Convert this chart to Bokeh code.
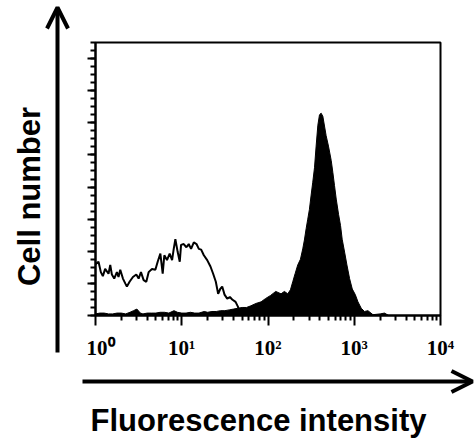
import numpy as np
from bokeh.plotting import figure
from bokeh.layouts import row, column
from bokeh.models import Range1d, FixedTicker, Arrow, OpenHead, Label
from bokeh.embed import file_html
from bokeh.resources import INLINE

# ---- data ----
# isotype control histogram (open line): log10 fluorescence, cell count
ctrl_log = [0.0, 0.035, 0.062, 0.085, 0.112, 0.151, 0.171, 0.19, 0.217, 0.248,
            0.267, 0.287, 0.318, 0.345, 0.364, 0.395, 0.434, 0.473, 0.5, 0.527,
            0.558, 0.589, 0.616, 0.655, 0.694, 0.721, 0.752, 0.779, 0.798, 0.829,
            0.86, 0.888, 0.907, 0.926, 0.953, 0.977, 0.992, 1.023, 1.054, 1.081,
            1.108, 1.14, 1.171, 1.198, 1.225, 1.256, 1.295, 1.333, 1.364, 1.395,
            1.422, 1.446, 1.469, 1.496, 1.527, 1.558, 1.585, 1.624, 1.651, 1.682,
            1.75, 1.85]
ctrl_count = [64, 67, 54, 49, 58, 52, 63, 51, 46, 54,
              48, 57, 46, 40, 36, 42, 48, 51, 46, 54,
              44, 42, 54, 58, 57, 67, 77, 52, 75, 69,
              77, 69, 83, 95, 79, 67, 88, 89, 85, 89,
              83, 91, 89, 83, 82, 75, 69, 61, 52, 42,
              27, 33, 36, 26, 21, 23, 20, 17, 11, 2,
              2, 1]

# stained sample histogram (filled)
samp_log = [0.0, 0.05, 0.1, 0.15, 0.2, 0.25, 0.3, 0.35, 0.4, 0.44, 0.48, 0.52,
            0.55, 0.6, 0.65, 0.7, 0.75, 0.8, 0.85, 0.91, 0.95, 1.0, 1.05,
            1.1, 1.15, 1.2, 1.26, 1.3, 1.35, 1.4, 1.45, 1.5, 1.55, 1.6, 1.65,
            1.7, 1.75, 1.8, 1.86, 1.92, 1.97, 2.03, 2.09, 2.151, 2.19, 2.229,
            2.26, 2.287, 2.314, 2.345, 2.376, 2.403, 2.422, 2.442, 2.461, 2.48,
            2.5, 2.519, 2.539, 2.558, 2.578, 2.597, 2.616, 2.636, 2.655, 2.674,
            2.701, 2.733, 2.752, 2.771, 2.791, 2.818, 2.841, 2.86, 2.888, 2.915,
            2.946, 2.977, 3.012, 3.043, 3.081, 3.119, 3.159, 3.217, 3.30, 3.35,
            3.40]
samp_count = [2, 3, 3, 2, 2, 3, 3, 2, 4, 6, 8, 3,
              2, 3, 3, 3, 4, 4, 3, 6, 4, 3, 3,
              4, 3, 3, 5, 4, 5, 5, 6, 6, 7, 8, 9,
              10, 10, 12, 15, 17, 21, 25, 30, 27, 30, 27,
              32, 42, 52, 63, 70, 83, 94, 108, 120, 132,
              150, 166, 184, 211, 237, 250, 252, 248, 236, 224,
              211, 193, 178, 162, 145, 126, 112, 95, 79, 63,
              46, 33, 26, 17, 9, 5, 6, 1, 2, 3,
              0]

x_major = [1, 10, 100, 1000, 10000]
x_labels = ["10\u2070", "10\u00b9", "10\u00b2", "10\u00b3", "10\u2074"]
x_minor = [m * d for d in [1, 10, 100, 1000] for m in range(2, 10)]
y_major = list(range(0, 341, 40))
y_minor = list(range(0, 341, 10))

x_title = "Fluorescence intensity"
y_title = "Cell number"

TOP_H = 362
LEFT_W = 86
TOTAL_W = 474
BOT_H = 80


def strip(width, height):
    f = figure(width=width, height=height, x_range=Range1d(0, width),
               y_range=Range1d(0, height), output_backend="svg",
               toolbar_location=None, min_border=0,
               x_axis_location=None, y_axis_location=None)
    f.grid.visible = False
    f.outline_line_color = None
    f.background_fill_color = "white"
    f.border_fill_color = "white"
    return f


# ---- main histogram ----
p = figure(width=TOTAL_W - LEFT_W, height=TOP_H, x_axis_type="log",
           x_range=Range1d(1, 10000), y_range=Range1d(0, 340),
           output_backend="svg", toolbar_location=None,
           min_border_left=9, min_border_right=34,
           min_border_top=42, min_border_bottom=45)
p.background_fill_color = "white"
p.border_fill_color = "white"
p.xgrid.visible = False
p.ygrid.visible = False
p.outline_line_color = "black"
p.outline_line_width = 2

sx = 10 ** np.array(samp_log)
cx = 10 ** np.array(ctrl_log)
p.varea(x=sx, y1=0, y2=samp_count, fill_color="black")
p.line(x=sx, y=samp_count, line_color="black", line_width=1)
p.line(x=cx, y=ctrl_count, line_color="black", line_width=2)

xa = p.xaxis[0]
xa.ticker = FixedTicker(ticks=x_major, minor_ticks=x_minor)
xa.major_label_overrides = {v: s for v, s in zip(x_major, x_labels)}
xa.axis_line_width = 2
xa.major_tick_line_width = 2
xa.minor_tick_line_width = 2
xa.major_tick_in = 0
xa.major_tick_out = 10
xa.minor_tick_in = 0
xa.minor_tick_out = 5
xa.major_label_standoff = 10
xa.major_label_text_font = "Liberation Serif"
xa.major_label_text_font_style = "bold"
xa.major_label_text_font_size = "21px"
xa.major_label_text_color = "black"

ya = p.yaxis[0]
ya.ticker = FixedTicker(ticks=y_major, minor_ticks=y_minor)
ya.major_label_overrides = {v: "" for v in y_major}
ya.major_label_standoff = 0
ya.axis_line_width = 2
ya.major_tick_line_width = 2
ya.minor_tick_line_width = 2
ya.major_tick_in = 0
ya.major_tick_out = 8
ya.minor_tick_in = 0
ya.minor_tick_out = 5

# ---- left strip: y arrow + title ----
lf = strip(LEFT_W, TOP_H)
lf.add_layout(Arrow(end=OpenHead(size=21, line_width=4, line_color="black"),
                    x_start=57, y_start=TOP_H - 352, x_end=57, y_end=TOP_H - 7,
                    line_width=4, line_color="black"))
lf.add_layout(Label(x=29, y=TOP_H - 196, text=y_title, angle=np.pi / 2,
                    text_align="center", text_baseline="alphabetic",
                    text_font="Liberation Sans", text_font_style="bold",
                    text_font_size="31px", text_color="black"))

# ---- bottom strip: x arrow + title ----
bf = strip(TOTAL_W, BOT_H)
bf.add_layout(Arrow(end=OpenHead(size=21, line_width=4, line_color="black"),
                    x_start=82, y_start=BOT_H - 19, x_end=472, y_end=BOT_H - 19,
                    line_width=4, line_color="black"))
bf.add_layout(Label(x=258, y=BOT_H - 58, text=x_title,
                    text_align="center", text_baseline="alphabetic",
                    text_font="Liberation Sans", text_font_style="bold",
                    text_font_size="31px", text_color="black"))

layout = column(row(lf, column(p)), bf)
open("out.html", "w").write(file_html(layout, INLINE))
